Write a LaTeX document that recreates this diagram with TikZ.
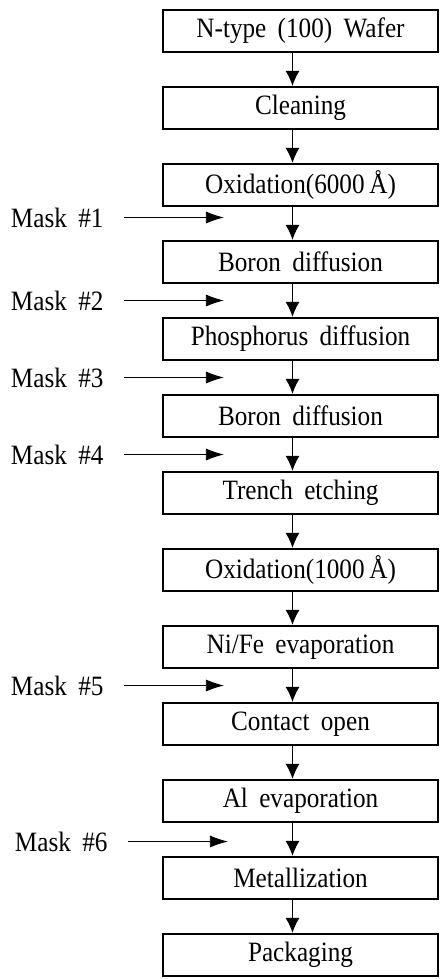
\documentclass[tikz,border=0pt]{standalone}
\usepackage{fontspec}
\setmainfont{Liberation Serif}[FakeStretch=0.9, WordSpace=1.8]
\usetikzlibrary{arrows.meta, positioning, calc}

\begin{document}
\begin{tikzpicture}[
    node distance=16.4pt,
    every node/.style={font=\fontsize{14}{16}\selectfont},
    box/.style={rectangle, draw, line width=1.1pt, minimum width=137.5pt, minimum height=21pt, inner sep=0pt, align=center},
    masklabel/.style={inner xsep=10pt, inner ysep=0pt, anchor=east},
    arrow/.style={-{Latex[length=7.5pt, width=7pt]}, semithick},
    maskarrow/.style={-{Latex[length=9pt, width=6pt]}, thin}
]

\useasboundingbox (0,0) rectangle (220pt,-489.5pt);

% ============ PROCESS STEPS ============
\node[box] (wafer) at (150.25pt,-15.5pt) {N-type (100) Wafer};
\node[box, below=of wafer] (clean) {Cleaning};
\node[box, below=of clean] (ox1) {Oxidation(6000\,Å)};
\node[box, below=of ox1] (bd1) {Boron diffusion};
\node[box, below=of bd1] (pd) {Phosphorus diffusion};
\node[box, below=of pd] (bd2) {Boron diffusion};
\node[box, below=of bd2] (trench) {Trench etching};
\node[box, below=of trench] (ox2) {Oxidation(1000\,Å)};
\node[box, below=of ox2] (nife) {Ni/Fe evaporation};
\node[box, below=of nife] (contact) {Contact open};
\node[box, below=of contact] (al) {Al evaporation};
\node[box, below=of al] (metal) {Metallization};
\node[box, below=of metal] (pack) {Packaging};

% ============ FLOW ARROWS ============
\draw[arrow] ([xshift=-4pt]wafer.south) -- ([xshift=-4pt]clean.north);
\draw[arrow] ([xshift=-4pt]clean.south) -- ([xshift=-4pt]ox1.north);
\draw[arrow] ([xshift=-4pt]ox1.south) -- ([xshift=-4pt]bd1.north);
\draw[arrow] ([xshift=-4pt]bd1.south) -- ([xshift=-4pt]pd.north);
\draw[arrow] ([xshift=-4pt]pd.south) -- ([xshift=-4pt]bd2.north);
\draw[arrow] ([xshift=-4pt]bd2.south) -- ([xshift=-4pt]trench.north);
\draw[arrow] ([xshift=-4pt]trench.south) -- ([xshift=-4pt]ox2.north);
\draw[arrow] ([xshift=-4pt]ox2.south) -- ([xshift=-4pt]nife.north);
\draw[arrow] ([xshift=-4pt]nife.south) -- ([xshift=-4pt]contact.north);
\draw[arrow] ([xshift=-4pt]contact.south) -- ([xshift=-4pt]al.north);
\draw[arrow] ([xshift=-4pt]al.south) -- ([xshift=-4pt]metal.north);
\draw[arrow] ([xshift=-4pt]metal.south) -- ([xshift=-4pt]pack.north);

% ============ MASKS ============
\coordinate (m1) at ($(ox1.south west)!0.5!(bd1.north west) + (31pt,3pt)$);
\coordinate (m2) at ($(bd1.south west)!0.5!(pd.north west) + (31pt,0)$);
\coordinate (m3) at ($(pd.south west)!0.5!(bd2.north west) + (31pt,0)$);
\coordinate (m4) at ($(bd2.south west)!0.5!(trench.north west) + (31pt,0)$);
\coordinate (m5) at ($(nife.south west)!0.5!(contact.north west) + (31pt,0)$);
\coordinate (m6) at ($(al.south west)!0.5!(metal.north west) + (33pt,-1pt)$);

\node[masklabel, left=50pt of m1] (mask1) {Mask \#1};
\node[masklabel, left=50pt of m2] (mask2) {Mask \#2};
\node[masklabel, left=50pt of m3] (mask3) {Mask \#3};
\node[masklabel, left=50pt of m4] (mask4) {Mask \#4};
\node[masklabel, left=50pt of m5] (mask5) {Mask \#5};
\node[masklabel, left=50pt of m6] (mask6) {Mask \#6};

\draw[maskarrow] (mask1) -- (m1);
\draw[maskarrow] (mask2) -- (m2);
\draw[maskarrow] (mask3) -- (m3);
\draw[maskarrow] (mask4) -- (m4);
\draw[maskarrow] (mask5) -- (m5);
\draw[maskarrow] (mask6) -- (m6);

\end{tikzpicture}
\end{document}
